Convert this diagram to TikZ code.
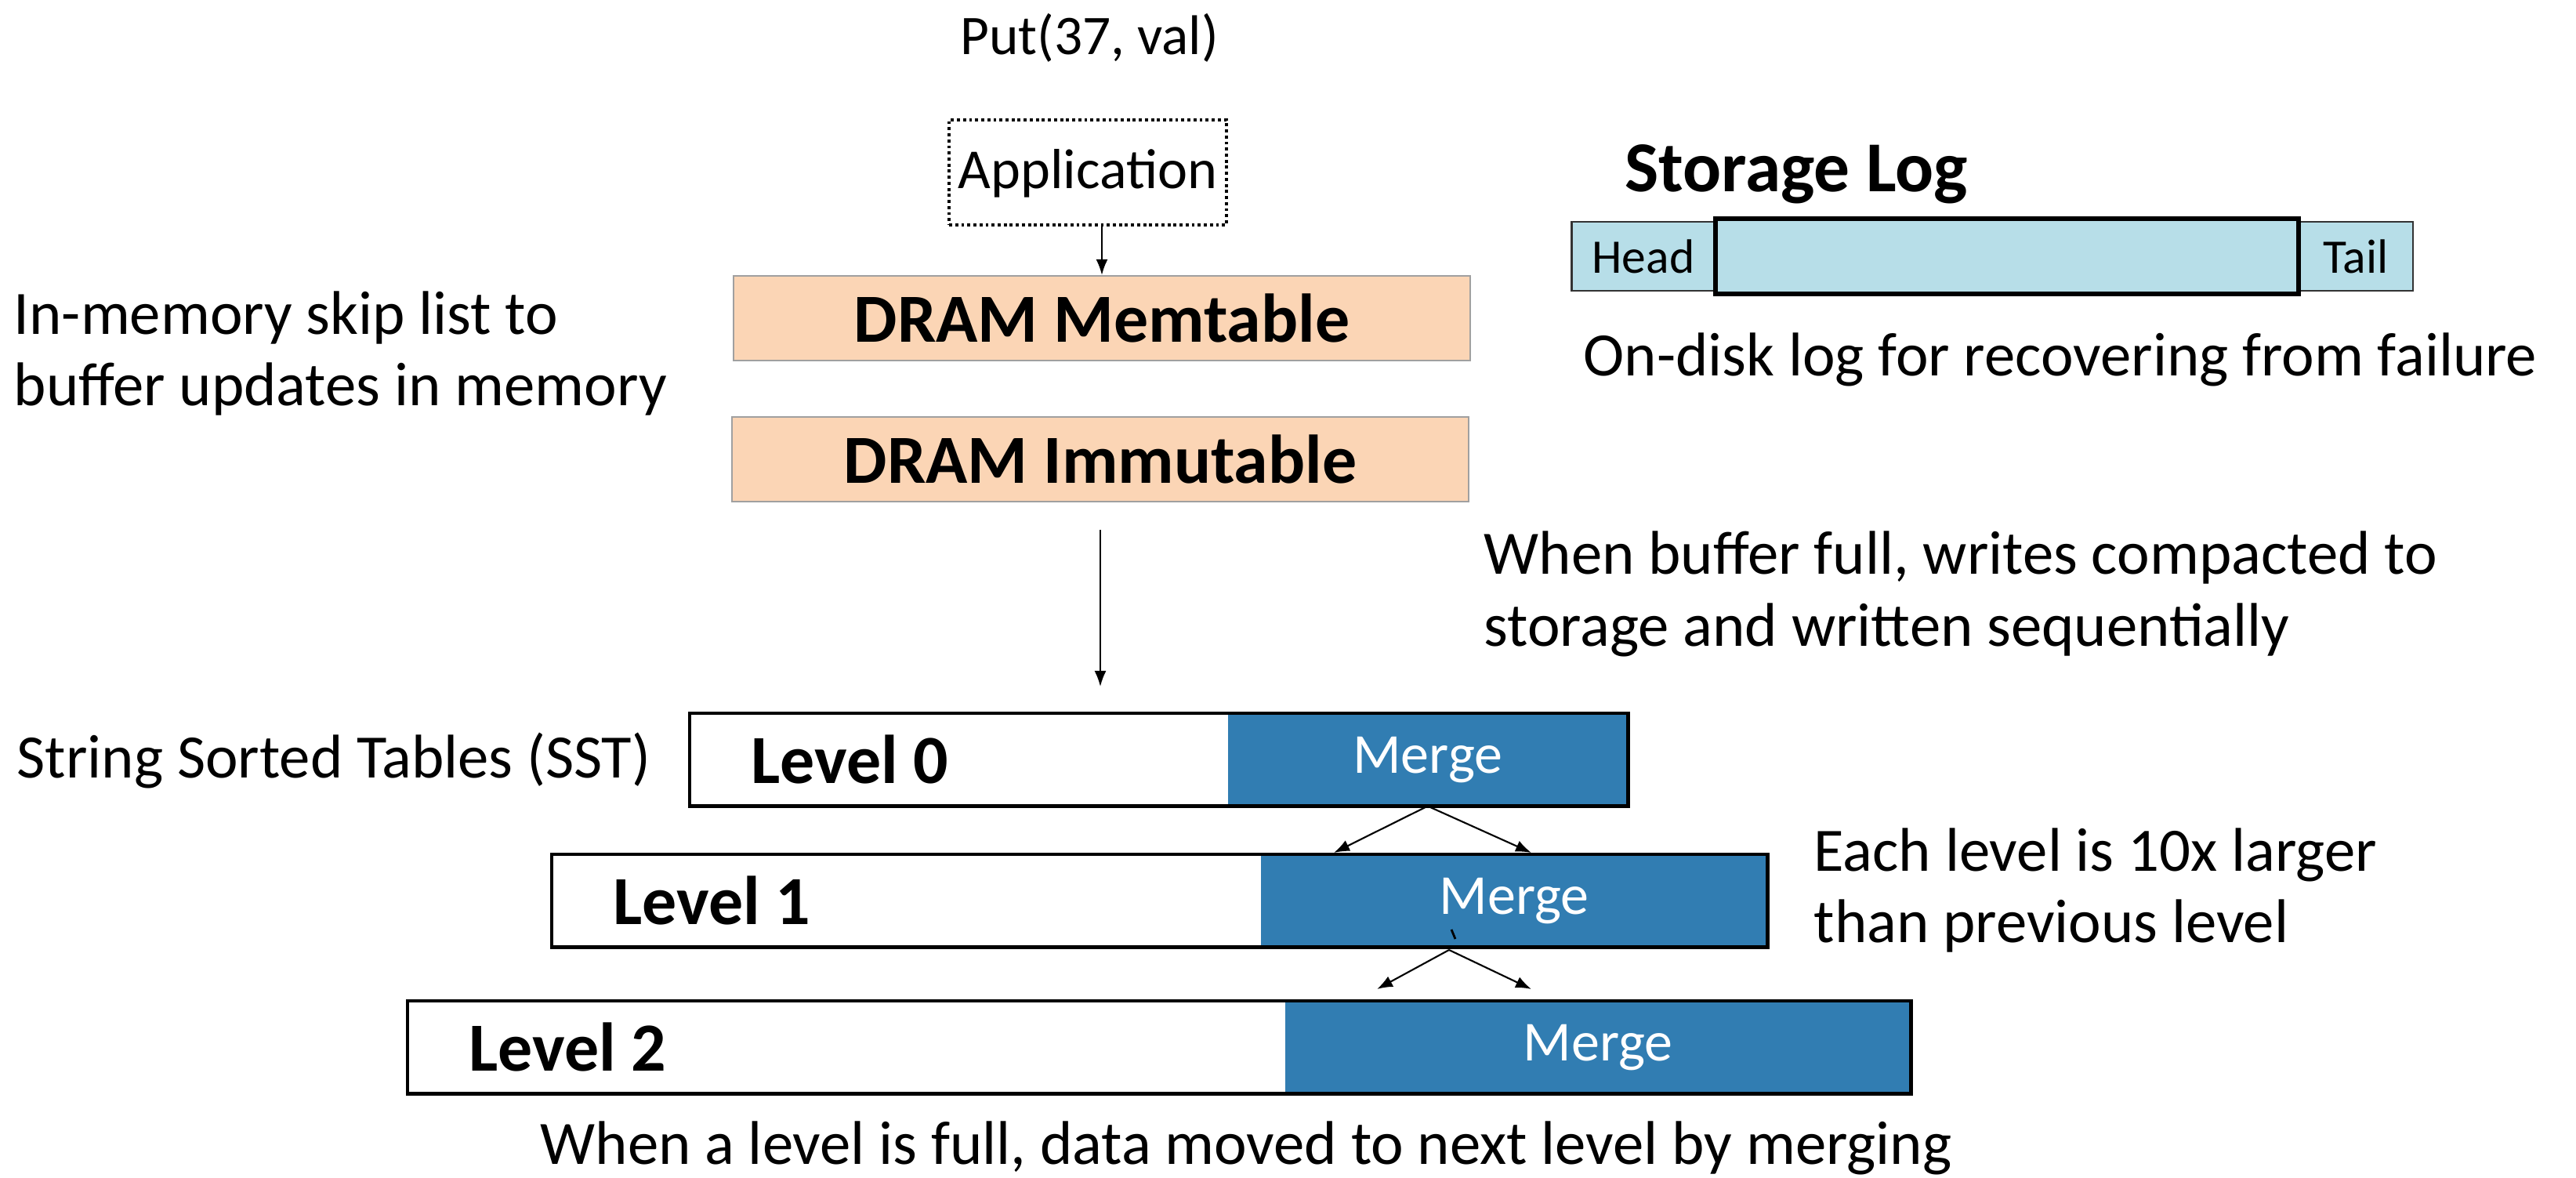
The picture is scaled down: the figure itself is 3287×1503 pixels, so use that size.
\documentclass[tikz,border=0pt]{standalone}
\usepackage{fontspec}
\setmainfont{Carlito}
\usetikzlibrary{arrows.meta}
\definecolor{peach}{RGB}{251,213,181}
\definecolor{logblue}{RGB}{183,222,232}
\definecolor{mergeblue}{RGB}{49,125,178}
\definecolor{edgegray}{RGB}{160,160,160}

\tikzset{
  memtbl/.style={draw=edgegray, line width=0.6pt, fill=peach, minimum width=9.4cm, minimum height=1.08cm, font=\fontsize{25}{27}\selectfont\bfseries},
  lvlbox/.style={fill=white, minimum height=1.17cm, inner sep=0pt},
  mergebox/.style={fill=mergeblue, minimum height=1.17cm, inner sep=0pt, text=white, font=\fontsize{20.5}{22}\selectfont},
  note/.style={font=\fontsize{22.4}{26}\selectfont, align=left, inner sep=0pt},
  logcell/.style={draw=black!80, line width=0.6pt, fill=logblue, minimum height=0.88cm, inner sep=0pt, font=\fontsize{17.5}{20}\selectfont},
  flow/.style={-{Latex[length=0.2cm,width=0.15cm]}, line width=0.6pt},
}

\begin{document}
\begin{tikzpicture}[x=0.01cm, y=-0.01cm]
% geometry: one unit = one pixel of the 3287 x 1503 slide, y runs down
\useasboundingbox (0,0) rectangle (3287,1503);

% ---- application issuing the put ----
\node[font=\fontsize{20.3}{22}\selectfont] (put) at (1390,48) {Put(37, val)};
\node[draw, dash pattern=on 1.1pt off 1.1pt, line width=1.1pt, minimum width=3.5cm, minimum height=1.34cm, text depth=0.1cm, font=\fontsize{20.5}{22}\selectfont] (app) at (1388,220) {Application};

% ---- DRAM buffers ----
\node[memtbl] (memtable) at (1406,406) {DRAM Memtable};
\node[memtbl] (immutable) at (1404,586) {DRAM Immutable};
\draw[flow] (app.south -| memtable.north) -- (memtable.north);

% ---- storage log ----
\node[font=\fontsize{26}{28}\selectfont\bfseries] (logtitle) at (2292,222) {Storage Log};
\node[logcell, minimum width=1.83cm] (head) at (2097,327) {Head};
\node[logcell, minimum width=1.46cm] (tail) at (3006,327) {Tail};
\node[logcell, draw=black, line width=1.6pt, minimum width=7.44cm, minimum height=0.96cm] (logbody) at (2561,327) {};
\node[note] (lognote) at (2629,459) {On-disk log for recovering from failure};

% ---- left / right notes ----
\node[note, anchor=west] (skipnote) at (17,451) {In-memory skip list to\\buffer updates in memory};
\node[note, anchor=west] (flushnote) at (1893,758) {When buffer full, writes compacted to\\storage and written sequentially};
\node[note, anchor=west] (sstnote) at (21,970) {String Sorted Tables (SST)};
\node[note, anchor=west] (sizenote) at (2314,1136) {Each level is 10x larger\\than previous level};
\node[note] (mergenote) at (1590,1465) {When a level is full, data moved to next level by merging};

% ---- SST levels: {level}/{left}/{merge start}/{right}/{top} ----
\foreach \i/\xl/\xm/\xr/\yt in {0/880/1566/2075/910, 1/704/1608/2253/1090, 2/520/1639/2436/1277}{
  \pgfmathsetmacro\w{(\xr-\xl)/100}
  \pgfmathsetmacro\wm{(\xr-\xm)/100}
  \node[lvlbox, minimum width=\w cm, anchor=north west] (lvl\i) at (\xl,\yt) {};
  \node[mergebox, minimum width=\wm cm, anchor=north east] (merge\i) at (lvl\i.north east) {Merge};
  \draw[line width=1.4pt] (lvl\i.north west) rectangle (lvl\i.south east);
  \node[anchor=west, font=\fontsize{25}{27}\selectfont\bfseries] (lvltext\i) at ([xshift=0.66cm]lvl\i.west) {Level \i};
}

% flush from immutable buffer down to level 0
\draw[flow, shorten <=0.35cm, shorten >=0.34cm] (immutable.south) -- (immutable.south |- lvl0.north);

% ---- merge fan-out ----
\coordinate (m0l) at (1702,1088);
\coordinate (m0r) at (1954,1088);
\draw[flow] (merge0.south) -- (m0l);
\draw[flow] (merge0.south) -- (m0r);
\coordinate (m1o) at (1849,1212);
\coordinate (m1l) at (1757,1262);
\coordinate (m1r) at (1954,1262);
\draw[flow] (m1o) -- (m1l);
\draw[flow] (m1o) -- (m1r);
\draw[line width=0.8pt] (1852,1186) -- (1857,1198);
\end{tikzpicture}
\end{document}
